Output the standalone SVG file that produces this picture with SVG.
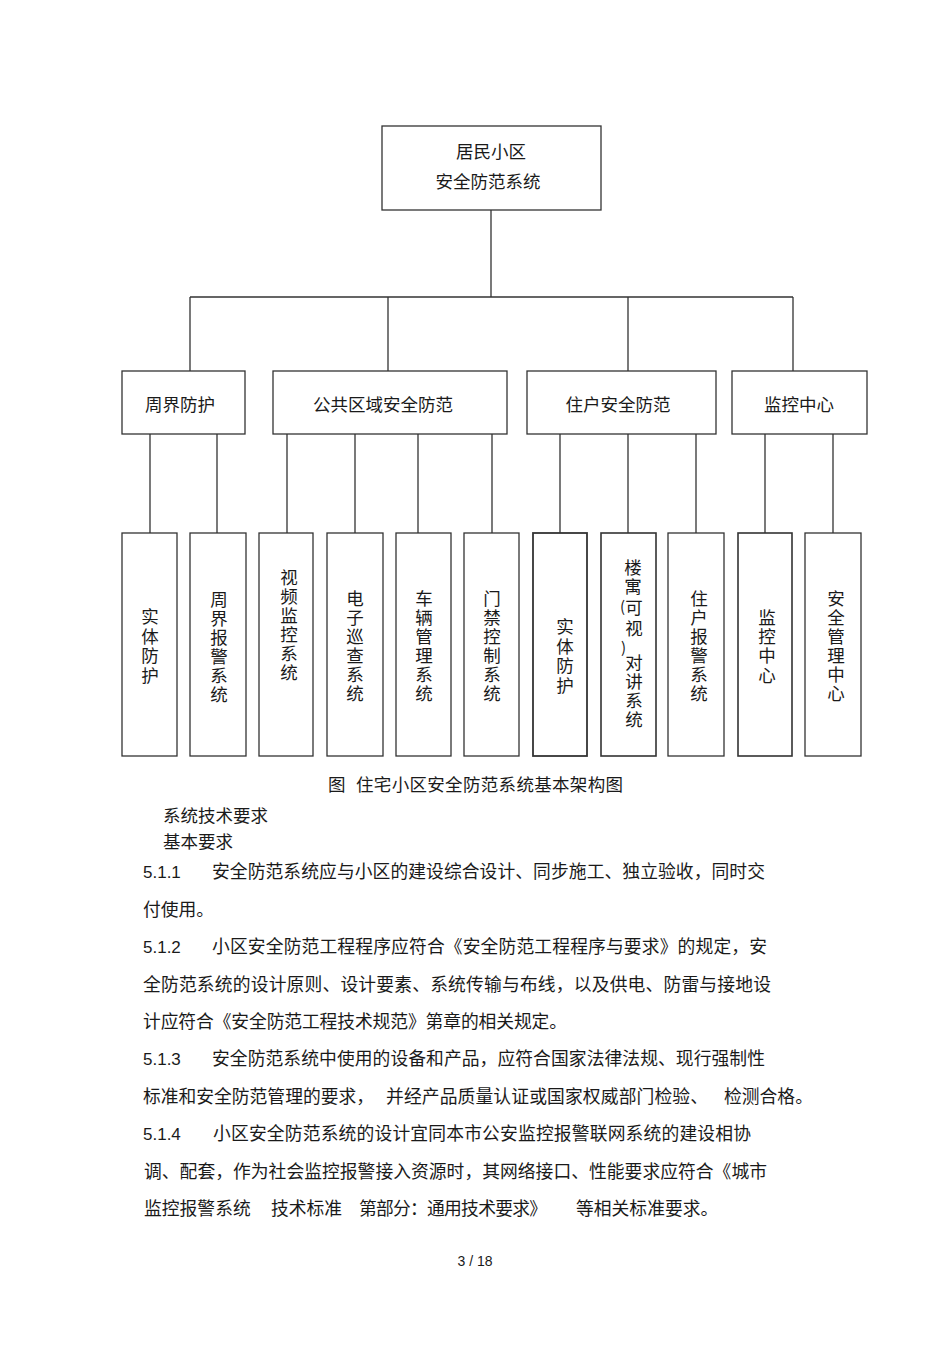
<svg xmlns="http://www.w3.org/2000/svg" width="950" height="1345" viewBox="0 0 950 1345">
<style>
.box{fill:#fff;stroke:#333;stroke-width:1.3}
.ln{fill:none;stroke:#333;stroke-width:1.3}
.t{font-family:"Noto Sans CJK SC","Noto Sans",sans-serif;font-size:17.5px;fill:#1a1a1a}
.c{text-anchor:middle}
.v{font-family:"Noto Sans CJK SC","Noto Sans",sans-serif;font-size:17.5px;fill:#1a1a1a;writing-mode:vertical-rl;text-anchor:middle;letter-spacing:1.5px}
.v4{letter-spacing:2px}
.b{font-family:"Noto Sans CJK SC","Noto Sans",sans-serif;font-size:17.8px;fill:#1a1a1a}
.n{font-family:"Liberation Sans",Arial,sans-serif;font-size:17px;fill:#1a1a1a}
</style>
<rect width="950" height="1345" fill="#fff"/>
<g id="connectors">
<path class="ln" d="M491,210V297M190,297H793M190,297V371M388,297V371M628,297V371M793,297V371"/>
<path class="ln" d="M150,434V533M217,434V533M287,434V533M355,434V533M418,434V533M492,434V533M560,434V533M628,434V533M696,434V533M765,434V533M833,434V533"/>
</g>
<g id="root">
<rect class="box" x="382" y="126" width="219" height="84"/>
<text class="t c" x="491" y="158">居民小区</text>
<text class="t c" x="488" y="188">安全防范系统</text>
</g>
<g id="n-zhoujie">
<rect class="box" x="122" y="371" width="123" height="63"/>
<text class="t c" x="180" y="411">周界防护</text>
</g>
<g id="n-gonggong">
<rect class="box" x="273" y="371" width="234" height="63"/>
<text class="t c" x="383" y="411">公共区域安全防范</text>
</g>
<g id="n-zhuhu">
<rect class="box" x="527" y="371" width="189" height="63"/>
<text class="t c" x="618" y="411">住户安全防范</text>
</g>
<g id="n-jiankong">
<rect class="box" x="732" y="371" width="135" height="63"/>
<text class="t c" x="799" y="411">监控中心</text>
</g>
<g id="leaf1">
<rect class="box" x="122" y="533" width="55" height="223"/>
<text class="v v4" x="150" y="647">实体防护</text>
</g>
<g id="leaf2">
<rect class="box" x="190" y="533" width="56" height="223"/>
<text class="v" x="219" y="648">周界报警系统</text>
</g>
<g id="leaf3">
<rect class="box" x="259" y="533" width="54" height="223"/>
<text class="v" x="289" y="626">视频监控系统</text>
</g>
<g id="leaf4">
<rect class="box" x="327" y="533" width="56" height="223"/>
<text class="v" x="355" y="647">电子巡查系统</text>
</g>
<g id="leaf5">
<rect class="box" x="396" y="533" width="55" height="223"/>
<text class="v" x="424" y="647">车辆管理系统</text>
</g>
<g id="leaf6">
<rect class="box" x="464" y="533" width="55" height="223"/>
<text class="v" x="492" y="647">门禁控制系统</text>
</g>
<g id="leaf7">
<rect class="box" x="533" y="533" width="54" height="223" style="stroke-width:1.8"/>
<text class="v v4" x="565" y="657">实体防护</text>
</g>
<g id="leaf8">
<rect class="box" x="601" y="533" width="55" height="223" style="stroke-width:1.6"/>
<text class="v" x="633" y="578">楼寓</text>
<text class="t" x="620" y="612" style="font-size:15px">(</text>
<text class="v" x="634" y="620" style="letter-spacing:4px">可视</text>
<text class="t" x="621" y="653" style="font-size:15px">)</text>
<text class="v" x="634" y="692">对讲系统</text>
</g>
<g id="leaf9">
<rect class="box" x="668" y="533" width="56" height="223"/>
<text class="v" x="699" y="647">住户报警系统</text>
</g>
<g id="leaf10">
<rect class="box" x="738" y="533" width="54" height="223" style="stroke-width:1.6"/>
<text class="v" x="767" y="647" style="letter-spacing:1.8px">监控中心</text>
</g>
<g id="leaf11">
<rect class="box" x="805" y="533" width="56" height="223"/>
<text class="v" x="836" y="647">安全管理中心</text>
</g>
<g id="text">
<text class="t" x="328" y="791">图</text>
<text class="t" x="356" y="791" textLength="267" lengthAdjust="spacing">住宅小区安全防范系统基本架构图</text>
<text class="t" x="163" y="822">系统技术要求</text>
<text class="t" x="163" y="848">基本要求</text>

<text class="n" x="143" y="878">5.1.1</text>
<text class="b" x="212" y="878" textLength="553" lengthAdjust="spacing">安全防范系统应与小区的建设综合设计、同步施工、独立验收，同时交</text>
<text class="b" x="143" y="916">付使用。</text>

<text class="n" x="143" y="953">5.1.2</text>
<text class="b" x="212" y="953" textLength="555" lengthAdjust="spacing">小区安全防范工程程序应符合《安全防范工程程序与要求》的规定，安</text>
<text class="b" x="143" y="991" textLength="628" lengthAdjust="spacing">全防范系统的设计原则、设计要素、系统传输与布线，以及供电、防雷与接地设</text>
<text class="b" x="143" y="1028" textLength="424" lengthAdjust="spacing">计应符合《安全防范工程技术规范》第章的相关规定。</text>

<text class="n" x="143" y="1065">5.1.3</text>
<text class="b" x="212" y="1065" textLength="553" lengthAdjust="spacing">安全防范系统中使用的设备和产品，应符合国家法律法规、现行强制性</text>
<text class="b" x="143" y="1103" textLength="231" lengthAdjust="spacing">标准和安全防范管理的要求，</text>
<text class="b" x="386" y="1103" textLength="322" lengthAdjust="spacing">并经产品质量认证或国家权威部门检验、</text>
<text class="b" x="724" y="1103">检测合格。</text>

<text class="n" x="143" y="1140">5.1.4</text>
<text class="b" x="213" y="1140" textLength="538" lengthAdjust="spacing">小区安全防范系统的设计宜同本市公安监控报警联网系统的建设相协</text>
<text class="b" x="144" y="1178" textLength="623" lengthAdjust="spacing">调、配套，作为社会监控报警接入资源时，其网络接口、性能要求应符合《城市</text>
<text class="b" x="144" y="1215">监控报警系统</text>
<text class="b" x="271" y="1215">技术标准</text>
<text class="b" x="359" y="1215" textLength="188" lengthAdjust="spacing">第部分：通用技术要求》</text>
<text class="b" x="576" y="1215">等相关标准要求。</text>

<text class="n" x="475" y="1266" text-anchor="middle" style="font-size:14px">3 / 18</text>
</g>
</svg>
